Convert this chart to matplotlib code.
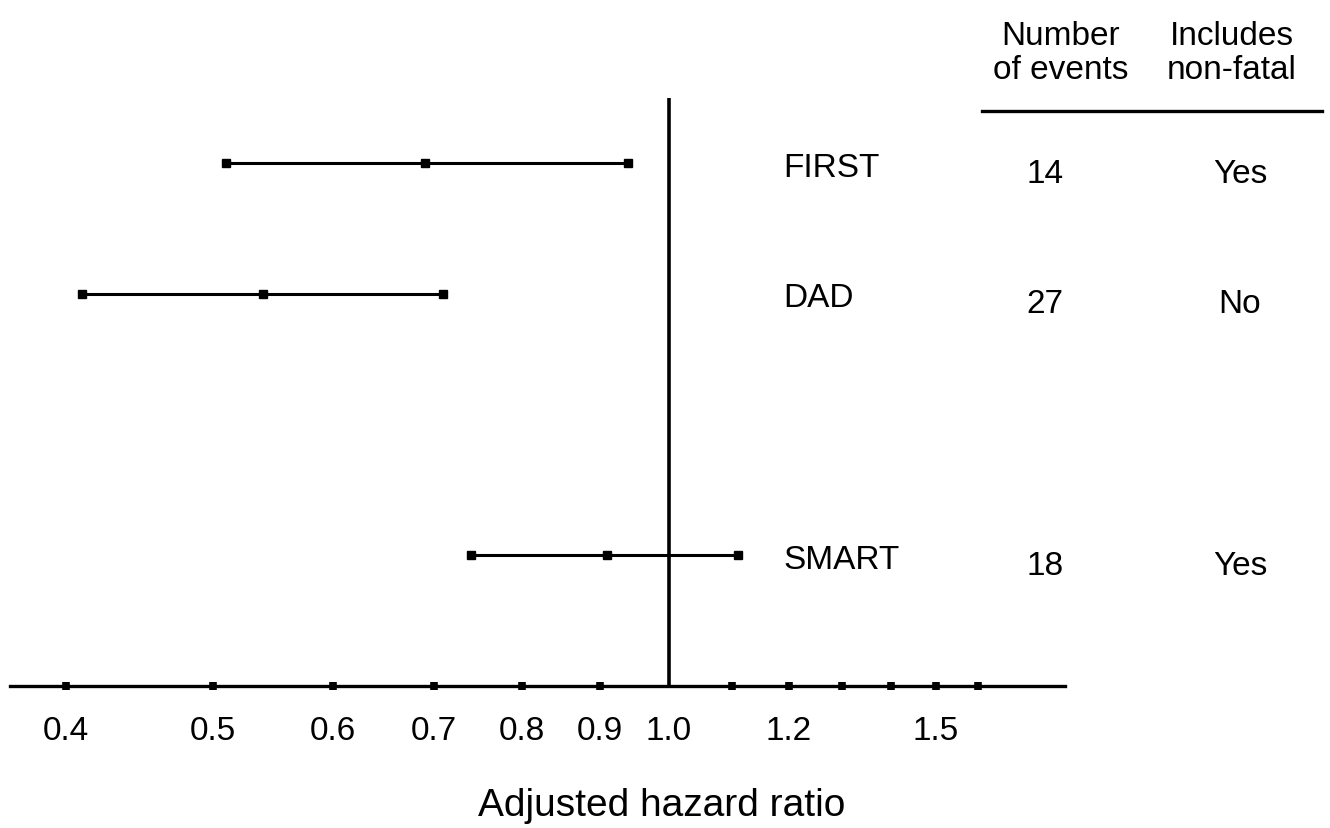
import matplotlib
matplotlib.use("Agg")
import matplotlib.pyplot as plt
from matplotlib.ticker import FixedLocator, FixedFormatter, NullFormatter
from matplotlib.transforms import blended_transform_factory
from matplotlib.lines import Line2D

plt.rcParams['font.family'] = ['Liberation Sans', 'DejaVu Sans']

# ---- data ----
studies = ["FIRST", "DAD", "", "SMART"]
hr = [0.69, 0.54, None, 0.91]
ci_low = [0.51, 0.41, None, 0.74]
ci_high = [0.94, 0.71, None, 1.11]
n_events = ["14", "27", "", "18"]
non_fatal = ["Yes", "No", "", "Yes"]
header_events = ["Number", "of events"]
header_nonfatal = ["Includes", "non-fatal"]
major_ticks = [0.4, 0.5, 0.6, 0.7, 0.8, 0.9, 1.0, 1.2, 1.5]
major_labels = ["0.4", "0.5", "0.6", "0.7", "0.8", "0.9", "1.0", "1.2", "1.5"]
minor_ticks = [1.1, 1.3, 1.4, 1.6]
ref_value = 1.0
xlabel = "Adjusted hazard ratio"

W, H = 1330, 829
fig = plt.figure(figsize=(W / 100, H / 100), dpi=100)
ax = fig.add_axes([10 / W, 1 - 687 / H, 1055 / W, 588 / H])
ax.set_xscale('log')
ax.set_xlim(0.3676, 1.8247)
ax.set_ylim(4, -0.5)

for s in ['top', 'left', 'right']:
    ax.spines[s].set_visible(False)
ax.spines['bottom'].set_linewidth(2.4)
ax.set_yticks([])

ax.xaxis.set_major_locator(FixedLocator(major_ticks))
ax.xaxis.set_major_formatter(FixedFormatter(major_labels))
ax.xaxis.set_minor_locator(FixedLocator(minor_ticks))
ax.xaxis.set_minor_formatter(NullFormatter())
ax.tick_params(axis='x', which='both', direction='inout', length=5.5, width=5.5,
               color='black', pad=18, labelsize=24)

ax.axvline(ref_value, color='black', lw=2.6)

# hide the square tick mark where the reference line meets the axis
fig.canvas.draw()
for t in ax.xaxis.get_major_ticks():
    if abs(t.get_loc() - ref_value) < 1e-9:
        t.tick1line.set_visible(False)

for i, name in enumerate(studies):
    if hr[i] is None:
        continue
    ax.plot([ci_low[i], ci_high[i]], [i, i], color='black', lw=2.2, solid_capstyle='butt')
    ax.plot([ci_low[i], hr[i], ci_high[i]], [i, i, i], 's', color='black', ms=5.5)

tr = blended_transform_factory(fig.transFigure, ax.transData)
off_name = 4 / 130.67
off_num = 10 / 130.67
for i, name in enumerate(studies):
    if not name:
        continue
    ax.text(783 / W, i + off_name, name, transform=tr, ha='left', va='center', fontsize=24)
    ax.text(1045 / W, i + off_num, n_events[i], transform=tr, ha='center', va='center', fontsize=24)
    ax.text(1240 / W, i + off_num, non_fatal[i], transform=tr, ha='center', va='center', fontsize=24)

fig.text(1061 / W, 1 - 45 / H, header_events[0], ha='center', va='baseline', fontsize=24)
fig.text(1061 / W, 1 - 79 / H, header_events[1], ha='center', va='baseline', fontsize=24)
fig.text(1232 / W, 1 - 45 / H, header_nonfatal[0], ha='center', va='baseline', fontsize=24)
fig.text(1232 / W, 1 - 79 / H, header_nonfatal[1], ha='center', va='baseline', fontsize=24)
fig.add_artist(Line2D([982 / W, 1322 / W], [1 - 112 / H, 1 - 112 / H], color='black', lw=2.4))

fig.text(662 / W, 1 - 816 / H, xlabel, ha='center', va='baseline', fontsize=28)

fig.savefig("out.png", dpi=100)
